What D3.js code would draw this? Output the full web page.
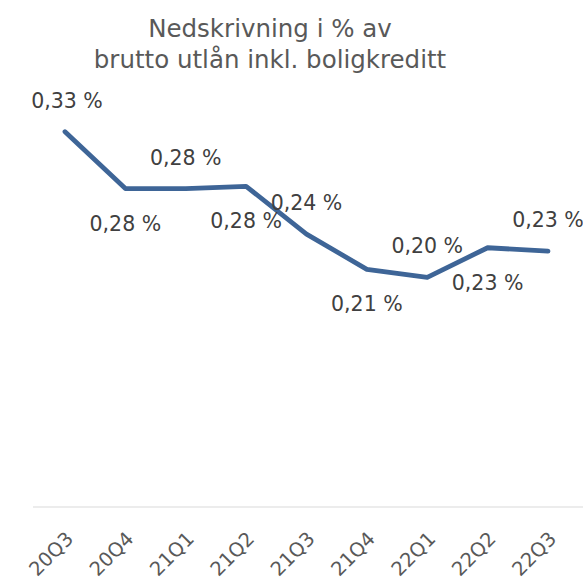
<!DOCTYPE html>
<html><head><meta charset="utf-8">
<script src="https://cdn.jsdelivr.net/npm/d3@7"></script>
<style>
html,body{margin:0;padding:0;background:#fff;overflow:hidden}
svg{display:block}
</style></head>
<body>
<script>
const categories = ["20Q3","20Q4","21Q1","21Q2","21Q3","21Q4","22Q1","22Q2","22Q3"];
const values = [0.330, 0.280, 0.280, 0.282, 0.240, 0.209, 0.202, 0.228, 0.225];
const valueLabels = ["0,33 %","0,28 %","0,28 %","0,28 %","0,24 %","0,21 %","0,20 %","0,23 %","0,23 %"];
const labelAbove = [true,false,true,false,true,false,true,false,true];
const titleLines = ["Nedskrivning i % av","brutto utlån inkl. boligkreditt"];

const W = 583, H = 580;
const font = "'DejaVu Sans', sans-serif";
const svg = d3.select("body").append("svg").attr("width", W).attr("height", H);

const x = d3.scalePoint().domain(categories).range([65, 548]);
const y = d3.scaleLinear().domain([0, 0.35]).range([507, 109]);

svg.append("g").selectAll("text").data(titleLines).join("text")
  .attr("x", 270).attr("y", (d,i) => 37 + i*31)
  .attr("text-anchor","middle").attr("font-family", font).attr("font-size", 24.5)
  .attr("fill","#595959").text(d => d);

svg.append("line").attr("x1", 33).attr("x2", 583).attr("y1", y(0)).attr("y2", y(0))
  .attr("stroke","#d9d9d9").attr("stroke-width",1);

const xAxis = d3.axisBottom(x).tickSize(0).tickPadding(0);
const gx = svg.append("g").attr("transform", `translate(0,${y(0)})`).call(xAxis);
gx.select(".domain").remove();
gx.selectAll("text")
  .attr("font-family", font).attr("font-size", 19.5).attr("fill","#595959")
  .attr("text-anchor","end").attr("dy", null).attr("y", 0)
  .attr("transform","translate(9,33) rotate(-45)");

const line = d3.line().x((d,i) => x(categories[i])).y(d => y(d));
svg.append("path").datum(values).attr("d", line)
  .attr("fill","none").attr("stroke","#3E6597").attr("stroke-width",4.8)
  .attr("stroke-linecap","round").attr("stroke-linejoin","round");

svg.append("g").selectAll("text").data(values).join("text")
  .attr("x", (d,i) => x(categories[i]) + (i===0 ? 2 : 0))
  .attr("y", (d,i) => labelAbove[i] ? y(d) - 24 : y(d) + 42)
  .attr("text-anchor","middle").attr("font-family", font).attr("font-size", 20.5)
  .attr("fill","#404040").text((d,i) => valueLabels[i]);
</script>
</body></html>
